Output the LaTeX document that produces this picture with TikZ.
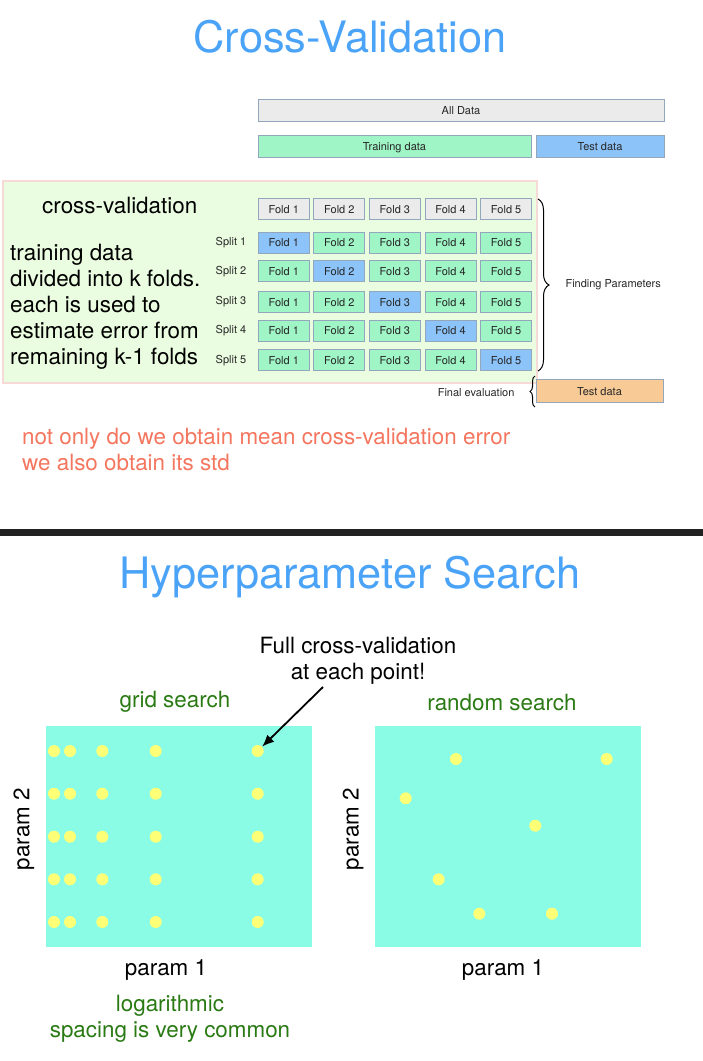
\documentclass[tikz,border=0pt]{standalone}
\usepackage{fontspec}
\setmainfont{TeX Gyre Heros}
\usepackage{xcolor}
\definecolor{cTitle}{HTML}{4AA3F7}
\definecolor{cHead}{HTML}{EBEBEB}
\definecolor{cEdge}{HTML}{93A6BB}
\definecolor{cTrain}{HTML}{9FF5C6}
\definecolor{cTest}{HTML}{8CC3F9}
\definecolor{cFinal}{HTML}{F8CA96}
\definecolor{cPanel}{HTML}{EBFDE0}
\definecolor{cPanelEdge}{HTML}{F7D9D6}
\definecolor{cNote}{HTML}{F4765E}
\definecolor{cGreen}{HTML}{2A7A14}
\definecolor{cPlot}{HTML}{8AFCE6}
\definecolor{cDot}{HTML}{FFFF77}
\definecolor{cBar}{HTML}{222222}
\definecolor{cLabel}{HTML}{262626}
\usepackage{tikz}
\usetikzlibrary{positioning,arrows.meta,decorations.pathreplacing}
\tikzset{
  slide-title/.style={text=cTitle,font=\fontsize{43.3}{48}\selectfont},
  big-text/.style={font=\fontsize{22.4}{26}\selectfont},
  small-label/.style={text=cLabel,font=\fontsize{11}{13}\selectfont},
  data-bar/.style={draw=cEdge,line width=0.8pt,minimum height=22pt,
    inner sep=0pt,text height=8pt,text depth=0pt,text=cLabel,
    font=\fontsize{11}{13}\selectfont},
  fold-box/.style={data-bar,fill=cTrain,minimum width=51pt,minimum height=21pt},
  fold-head/.style={fold-box,fill=cHead},
  green-note/.style={big-text,text=cGreen},
  plot-area/.style={fill=cPlot},
  sample-dot/.style={circle,fill=cDot,minimum size=12pt,inner sep=0pt},
  brace-line/.style={decorate,line width=1pt},
  arrow/.style={-{Latex[length=12pt,width=10pt]},line width=1.8pt},
}

\begin{document}
\begin{tikzpicture}[x=1pt,y=-1pt]
  \useasboundingbox (0,0) rectangle (703,1061);
  % upper slide
  \node[slide-title,anchor=base] (title-cv) at (350,52.7) {Cross-Validation};
  \node[data-bar,fill=cHead,minimum width=406pt] (all-data) at (461,110) {All Data};
  \node[data-bar,fill=cTrain,minimum width=273pt] (train-data) at (394.5,146) {Training data};
  \node[data-bar,fill=cTest,minimum width=128pt] (test-data) at (600,146) {Test data};
  \draw[draw=cPanelEdge,fill=cPanel,line width=1.5pt] (3,181) rectangle (537,383);
  \node[big-text,anchor=west,inner sep=0pt] (cv-head) at (42,205) {cross-validation};
  \node[big-text,align=left,anchor=north west,inner sep=0pt] (cv-text) at (10,244)
    {training data\\divided into k folds.\\each is used to\\estimate error from\\remaining k-1 folds};
  \foreach \i in {1,...,5}
    \node[fold-head] (fold-0-\i) at ({228.1+55.6*\i},209) {Fold \i};
  \foreach \s/\y in {1/242.7,2/271.3,3/302,4/330.7,5/360.3} {
    \node[small-label] (split-\s) at (231,\y) {Split \s};
    \foreach \i in {1,...,5} {
      \ifnum\i=\s\def\fc{cTest}\else\def\fc{cTrain}\fi
      \node[fold-box,fill=\fc] (fold-\s-\i) at ({228.1+55.6*\i},\y) {Fold \i};
    }
  }
  \coordinate (brace-top) at (538,199);
  \coordinate (brace-bot) at (538,371);
  \draw[brace-line,decoration={brace,amplitude=11pt}] (brace-top) -- (brace-bot);
  \node[small-label,anchor=west] (find-par) at (562,285) {Finding Parameters};
  \node[data-bar,fill=cFinal,minimum width=127pt,minimum height=23pt] (final-test) at (599.5,391) {Test data};
  \coordinate (fin-bot) at (535,407);
  \coordinate (fin-top) at (535,376);
  \draw[brace-line,decoration={brace,amplitude=5pt}] (fin-bot) -- (fin-top);
  \node[small-label,anchor=east] (final-eval) at (518,392.5) {Final evaluation};
  \node[big-text,text=cNote,align=left,anchor=north west,inner sep=0pt] (std-note) at (22,428)
    {not only do we obtain mean cross-validation error\\we also obtain its std};
  \fill[cBar] (0,529) rectangle (703,536);
  % lower slide
  \node[slide-title,anchor=base] (title-hp) at (350,588.5) {Hyperparameter Search};
  \node[big-text,align=center] (cv-point) at (358,661) {Full cross-validation\\at each point!};
  \node[green-note] (grid-title) at (175,702) {grid search};
  \node[green-note] (rand-title) at (502,702) {random search};
  \fill[plot-area] (46,726) rectangle (312,947);
  \fill[plot-area] (375,726) rectangle (641,947);
  \foreach \c/\x in {1/54,2/70,3/102.3,4/155.7,5/257.7}
    \foreach \r/\y in {1/751,2/793.7,3/836.7,4/879.3,5/922}
      \node[sample-dot] (g-\c-\r) at (\x,\y) {};
  \foreach \k/\x/\y in {1/456/759,2/606.7/759,3/405.7/798.3,4/535.3/825.7,
      5/438.7/879.3,6/479.3/913.7,7/552/913.7}
    \node[sample-dot] (r-\k) at (\x,\y) {};
  \coordinate (note-tail) at (323,687);
  \draw[arrow] (note-tail) -- (g-5-1);
  \node[big-text,rotate=90] (p2-grid) at (24,829) {param 2};
  \node[big-text,rotate=90] (p2-rand) at (353,829) {param 2};
  \node[big-text] (p1-grid) at (166,970) {param 1};
  \node[big-text] (p1-rand) at (503,970) {param 1};
  \node[green-note,align=center] (log-note) at (170,1019) {logarithmic\\spacing is very common};
\end{tikzpicture}
\end{document}
